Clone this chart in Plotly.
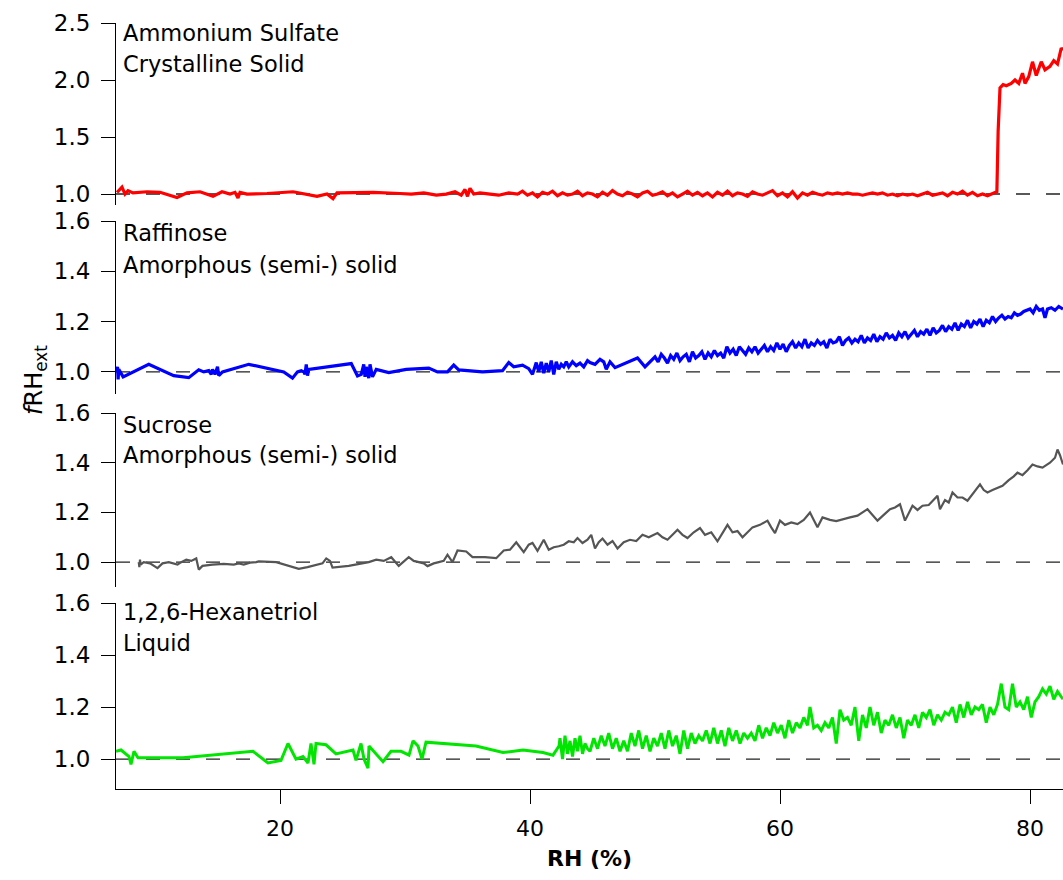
import plotly.graph_objects as go

# ---------------- data ----------------
X_RANGE = [6.88, 82.64]
X_TICKS = [20, 40, 60, 80]
REF_LEVEL = 1.0

as_rh = [6.96, 7.36, 7.6, 7.84, 8.24, 9.36, 10.4, 11.76, 12.56, 13.6, 14.64, 15.36, 16.0, 16.4,
         16.64, 16.8, 17.36, 18.96, 21.04, 22.96, 23.76, 24.24, 24.56, 27.44, 29.6, 30.5, 31.5,
         32.5, 33.3, 34.0, 34.5, 34.8, 35.0, 35.2, 35.5, 36.0, 36.8, 37.5, 38.3,
         39.0, 39.4, 39.8, 40.2, 40.6, 41.0, 41.4, 41.8, 42.2, 42.6, 43.0, 43.4, 43.8, 44.2, 44.6,
         45.0, 45.4, 45.8, 46.2, 46.6, 47.0, 47.4, 47.8, 48.2, 48.6, 49.0, 49.4, 49.8, 50.2, 50.6,
         51.0, 51.4, 51.8, 52.2, 52.6, 53.0, 53.4, 53.8, 54.2, 54.6, 55.0, 55.4, 55.8, 56.2, 56.6,
         57.0, 57.4, 57.8, 58.2, 58.6, 59.0, 59.4, 59.8, 60.2, 60.6, 61.0, 61.4, 61.8, 62.2, 62.6,
         63.0, 63.4, 63.8, 64.2, 64.6, 65.0, 65.4, 65.8, 66.2, 66.6, 67.0, 67.4, 67.8, 68.2, 68.6,
         69.0, 69.4, 69.8, 70.2, 70.6, 71.0, 71.4, 71.8, 72.2, 72.6, 73.0, 73.4, 73.8, 74.2, 74.6,
         75.0, 75.4, 75.8, 76.2, 76.6, 77.0, 77.2, 77.35, 77.45, 77.6, 77.85, 78.1, 78.5, 78.8,
         79.1, 79.4, 79.6, 79.9, 80.2, 80.5, 80.9, 81.2, 81.6, 81.9, 82.2, 82.5, 82.64]
as_f = [1.014, 1.06, 1.00, 1.03, 1.01, 1.02, 1.015, 0.97, 1.01, 1.02, 0.98, 1.02, 1.00, 1.015,
        0.965, 1.015, 1.0, 1.005, 1.02, 0.98, 1.00, 0.96, 1.01, 1.015, 1.005, 1.0, 1.01,
        0.99, 1.0, 1.02, 0.99, 1.04, 0.98, 1.05, 1.0, 1.01, 1.0, 0.99, 1.01,
        1.00, 1.025, 0.99, 1.01, 0.975, 1.015, 1.00, 1.025, 0.985, 1.01, 0.99, 1.00, 1.025, 0.985, 1.01,
        1.00, 0.975, 1.015, 0.99, 1.03, 1.00, 0.985, 1.015, 1.00, 0.975, 1.01, 1.025, 0.99, 1.00, 1.02,
        0.985, 1.01, 0.975, 1.00, 1.025, 0.99, 1.015, 0.985, 1.01, 0.975, 1.015, 0.99, 1.025, 0.985, 1.01,
        1.00, 0.98, 1.02, 1.00, 0.99, 1.01, 1.03, 0.985, 1.01, 0.975, 1.02, 0.965, 1.01, 0.99, 1.015,
        1.00, 0.99, 1.01, 1.00, 1.01, 1.00, 1.01, 1.00, 1.00, 0.99, 1.00, 1.01, 1.00, 1.01, 0.99,
        1.00, 0.985, 1.00, 0.99, 1.00, 0.985, 1.00, 1.015, 0.99, 1.00, 1.01, 0.985, 1.015, 1.00, 1.025,
        0.99, 1.015, 0.985, 1.00, 0.985, 1.00, 1.01, 1.02, 1.55, 1.93, 1.96, 1.95, 1.97, 2.0,
        1.97, 2.06, 1.97, 2.03, 2.16, 2.04, 2.16, 2.09, 2.12, 2.17, 2.14, 2.28, 2.26]

raf_rh = [6.9, 7.0, 7.05, 7.1, 7.45, 9.5, 11.5, 12.7, 13.5, 13.9, 14.3, 14.5, 14.6, 14.8, 15.0,
          15.1, 15.4, 17.5, 20.3, 21.0, 21.4, 21.7, 21.9, 22.0, 22.1, 22.2, 22.3, 23.9, 25.7,
          26.2, 26.5, 26.7, 26.8, 26.9, 27.1, 27.2, 27.4, 27.7, 28.7, 30.1, 31.9, 32.6, 33.1,
          33.4, 33.9, 34.3, 36.2, 37.8, 38.3, 38.7, 39.4, 39.9, 40.2, 40.5, 40.7, 40.9, 41.1,
          41.3, 41.5, 41.7, 41.9, 42.1, 42.3, 42.5, 42.7, 42.9, 43.1, 43.4, 43.7, 44.0, 44.3,
          44.6, 44.8, 45.2, 45.6, 45.9, 46.1, 46.4, 46.8, 48.6, 49.2, 49.6,
          50.0, 50.25, 50.5, 50.75, 51.0, 51.25, 51.5, 51.75, 52.0, 52.25, 52.5, 52.75, 53.0,
          53.25, 53.5, 53.75, 54.0, 54.25, 54.5, 54.75, 55.0, 55.25, 55.5, 55.75, 56.0, 56.25,
          56.5, 56.75, 57.0, 57.25, 57.5, 57.75, 58.0, 58.25, 58.5, 58.75, 59.0, 59.25, 59.5,
          59.75, 60.0, 60.25, 60.5, 60.75, 61.0, 61.25, 61.5, 61.75, 62.0, 62.25, 62.5, 62.75,
          63.0, 63.25, 63.5, 63.75, 64.0, 64.25, 64.5, 64.75, 65.0, 65.25, 65.5, 65.75, 66.0,
          66.25, 66.5, 66.75, 67.0, 67.25, 67.5, 67.75, 68.0, 68.25, 68.5, 68.75, 69.0, 69.25,
          69.5, 69.75, 70.0, 70.25, 70.5, 70.75, 71.0, 71.25, 71.5, 71.75, 72.0, 72.25, 72.5,
          72.75, 73.0, 73.25, 73.5, 73.75, 74.0, 74.25, 74.5, 74.75, 75.0, 75.25, 75.5, 75.75,
          76.0, 76.25, 76.5, 76.75, 77.0, 77.25, 77.5, 77.75, 78.0, 78.25, 78.5, 78.75, 79.0,
          79.25, 79.5, 79.75, 80.0, 80.25, 80.5, 80.75, 81.0, 81.2, 81.4, 81.7, 82.0, 82.3, 82.64]
raf_f = [1.00, 1.02, 0.97, 1.01, 0.98, 1.03, 0.985, 0.977, 1.008, 1.0, 1.005, 0.99, 1.01, 0.99, 1.02,
         0.985, 1.0, 1.03, 1.0, 0.975, 1.0, 1.005, 1.0, 0.99, 1.03, 0.985, 1.01, 1.02, 1.033,
         0.984, 0.99, 1.03, 0.98, 1.02, 0.975, 1.03, 0.98, 1.01, 0.997, 1.01, 1.015, 1.0, 1.002,
         1.0, 1.027, 1.008, 1.0, 1.005, 1.037, 1.02, 1.027, 1.013, 0.99, 1.037, 1.0, 1.04, 0.995,
         1.035, 1.0, 1.045, 0.99, 1.04, 1.01, 1.03, 1.02, 1.04, 1.02, 1.04, 1.025, 1.035, 1.02,
         1.045, 1.037, 1.03, 1.05, 1.04, 1.01, 1.04, 1.017, 1.055, 1.02, 1.04,
         1.06, 1.04, 1.07, 1.055, 1.035, 1.065, 1.05, 1.075, 1.045, 1.06, 1.07, 1.04, 1.08,
         1.055, 1.065, 1.08, 1.05, 1.075, 1.06, 1.085, 1.065, 1.075, 1.055, 1.10, 1.075, 1.09,
         1.065, 1.10, 1.085, 1.07, 1.095, 1.08, 1.10, 1.075, 1.09, 1.105, 1.08, 1.10, 1.085,
         1.115, 1.09, 1.11, 1.08, 1.105, 1.12, 1.095, 1.115, 1.10, 1.13, 1.095, 1.115, 1.105,
         1.125, 1.11, 1.12, 1.095, 1.13, 1.115, 1.12, 1.14, 1.105, 1.125, 1.135, 1.115, 1.13,
         1.12, 1.145, 1.115, 1.135, 1.125, 1.15, 1.12, 1.14, 1.13, 1.155, 1.135, 1.145, 1.125,
         1.155, 1.14, 1.16, 1.135, 1.15, 1.165, 1.14, 1.16, 1.15, 1.17, 1.145, 1.175, 1.155,
         1.165, 1.185, 1.16, 1.18, 1.17, 1.195, 1.165, 1.19, 1.18, 1.205, 1.175, 1.20, 1.19,
         1.21, 1.18, 1.205, 1.195, 1.22, 1.20, 1.215, 1.225, 1.21, 1.22, 1.215, 1.235, 1.225,
         1.23, 1.24, 1.245, 1.25, 1.235, 1.26, 1.245, 1.25, 1.215, 1.25, 1.255, 1.245, 1.26, 1.25]

suc_rh = [8.7, 8.75, 8.8, 8.85, 9.1, 9.6, 10.2, 10.6, 11.1, 11.5, 11.8, 12.1, 12.5, 12.9, 13.3,
          13.5, 13.8, 14.6, 15.5, 16.3, 16.7, 17.1, 17.6, 18.1, 18.3, 19.7, 20.6, 21.5, 22.2,
          22.9, 23.4, 23.7, 24.0, 24.2, 25.5, 27.1, 27.7, 28.3, 28.9, 29.5, 30.3, 30.7, 31.1,
          31.5, 31.8, 32.3, 32.7, 33.1, 33.4, 33.8, 34.2, 34.9, 35.4, 36.4, 37.3, 37.9, 38.4,
          38.9, 39.2, 39.5, 39.9, 40.2, 40.6, 41.1, 41.5, 41.9, 42.3, 42.7, 43.1, 43.5, 43.8,
          44.2, 44.6, 44.9, 45.2, 45.5, 45.8, 46.2, 46.6, 47.0, 47.5, 48.0, 48.5, 49.0, 49.5,
          50.2, 50.6, 51.0, 51.4, 51.8, 52.2, 52.6, 53.1, 53.6, 54.0, 54.5, 55.0, 55.4, 55.8,
          56.2, 56.6, 57.0, 57.4, 57.8, 58.4, 59.0, 59.3, 59.6, 60.0, 60.4, 60.9, 61.4, 61.9,
          62.4, 62.7, 63.0, 63.4, 64.0, 64.5, 65.0, 65.6, 66.2, 66.6, 67.0, 67.4, 67.8, 68.3,
          68.8, 69.2, 69.6, 70.0, 70.3, 70.6, 71.0, 71.4, 71.9, 72.3, 72.6, 72.8, 73.2, 73.5,
          73.8, 74.2, 74.6, 75.0, 75.5, 76.0, 76.3, 76.6, 77.0, 77.4, 77.8, 78.3, 78.7, 79.0,
          79.4, 79.8, 80.2, 80.6, 81.0, 81.3, 81.6, 82.0, 82.2, 82.4, 82.64]
suc_f = [1.00, 0.98, 1.01, 0.99, 1.00, 0.995, 0.976, 0.995, 1.0, 0.995, 0.99, 1.0, 1.01, 1.005, 1.015,
         0.97, 0.985, 0.99, 0.993, 0.99, 0.995, 0.99, 0.998, 1.0, 1.003, 1.0, 0.985, 0.973, 0.98,
         0.99, 0.995, 1.015, 1.005, 0.978, 0.985, 1.0, 1.01, 1.005, 1.02, 0.985, 1.02, 1.005, 1.0,
         0.995, 0.984, 0.995, 1.0, 1.005, 1.03, 1.0, 1.047, 1.043, 1.02, 1.02, 1.016, 1.047, 1.05,
         1.08, 1.06, 1.04, 1.07, 1.077, 1.045, 1.09, 1.05, 1.06, 1.064, 1.07, 1.084, 1.08, 1.097,
         1.077, 1.09, 1.11, 1.055, 1.08, 1.095, 1.07, 1.085, 1.055, 1.08, 1.09, 1.085, 1.11, 1.10,
         1.117, 1.10, 1.09, 1.11, 1.13, 1.11, 1.097, 1.12, 1.137, 1.11, 1.12, 1.084, 1.12, 1.15,
         1.12, 1.125, 1.10, 1.12, 1.14, 1.15, 1.167, 1.14, 1.117, 1.167, 1.15, 1.16, 1.153, 1.17,
         1.20, 1.17, 1.14, 1.18, 1.17, 1.165, 1.173, 1.18, 1.187, 1.20, 1.213, 1.19, 1.167, 1.19,
         1.213, 1.22, 1.233, 1.167, 1.20, 1.227, 1.21, 1.227, 1.23, 1.25, 1.267, 1.213, 1.25, 1.24,
         1.28, 1.26, 1.26, 1.247, 1.28, 1.313, 1.29, 1.28, 1.29, 1.30, 1.307, 1.33, 1.345, 1.36,
         1.35, 1.37, 1.393, 1.385, 1.38, 1.39, 1.40, 1.42, 1.453, 1.43, 1.393]

hex_rh = [6.88, 7.28, 7.92, 8.08, 8.32, 8.64, 12.24, 17.84, 19.04, 20.08, 20.64, 21.28, 21.84,
          22.24, 22.48, 22.72, 22.88, 23.68, 24.48, 25.84, 26.08, 26.48, 26.72, 27.04, 27.12,
          28.24, 28.88, 29.68, 30.32, 30.64, 31.04, 31.36, 31.68, 35.68, 37.84, 39.44, 41.04,
          41.84, 42.32,
          42.4, 42.6, 42.8, 43.0, 43.2, 43.4, 43.6, 43.8, 44.0, 44.2, 44.4, 44.6, 44.8, 45.1,
          45.4, 45.7, 46.0, 46.3, 46.6, 46.9, 47.2, 47.5, 47.8, 48.1, 48.4, 48.7, 49.0, 49.3,
          49.6, 49.9, 50.2, 50.5, 50.8, 51.1, 51.4, 51.7, 52.0, 52.3, 52.6, 52.9, 53.2, 53.5,
          53.8, 54.1, 54.4, 54.7, 55.0, 55.3, 55.6, 55.9, 56.2, 56.5, 56.8, 57.1, 57.4, 57.7,
          58.0, 58.3, 58.6, 58.9, 59.2, 59.5, 59.8, 60.1, 60.4, 60.7, 61.0, 61.3, 61.6, 61.9,
          62.2, 62.4, 62.7, 63.0, 63.3, 63.6, 63.9, 64.2, 64.5, 64.8, 65.1, 65.4, 65.7, 66.0,
          66.3, 66.6, 66.9, 67.2, 67.5, 67.8, 68.1, 68.4, 68.7, 69.0, 69.3, 69.6, 69.9, 70.2,
          70.5, 70.8, 71.1, 71.4, 71.7, 72.0, 72.3, 72.6, 72.9, 73.2, 73.5, 73.8, 74.1, 74.4,
          74.7, 75.0, 75.3, 75.6, 75.9, 76.2, 76.5, 76.8, 77.1, 77.4, 77.7, 78.0, 78.3, 78.6,
          78.9, 79.2, 79.5, 79.8, 80.1, 80.4, 80.7, 81.0, 81.3, 81.6, 81.9, 82.2, 82.64]
hex_f = [1.03, 1.035, 1.01, 0.98, 1.03, 1.005, 1.005, 1.03, 0.985, 0.995, 1.06, 1.0, 1.01,
         0.985, 1.06, 0.98, 1.06, 1.055, 1.02, 1.035, 0.995, 1.06, 1.0, 0.965, 1.05,
         0.99, 1.03, 1.03, 1.015, 1.07, 1.05, 1.0, 1.065, 1.05, 1.025, 1.035, 1.025,
         1.015, 1.05,
         1.08, 1.00, 1.09, 1.02, 1.07, 1.01, 1.08, 1.03, 1.09, 1.02, 1.06, 1.04, 1.03, 1.08,
         1.04, 1.09, 1.05, 1.10, 1.04, 1.08, 1.03, 1.07, 1.03, 1.10, 1.05, 1.11, 1.04, 1.09,
         1.03, 1.08, 1.05, 1.10, 1.04, 1.11, 1.05, 1.09, 1.02, 1.11, 1.04, 1.10, 1.06, 1.09,
         1.07, 1.11, 1.06, 1.12, 1.06, 1.11, 1.05, 1.12, 1.07, 1.11, 1.06, 1.10, 1.08, 1.10,
         1.07, 1.13, 1.08, 1.12, 1.09, 1.14, 1.10, 1.13, 1.08, 1.15, 1.10, 1.14, 1.12, 1.16,
         1.13, 1.20, 1.12, 1.13, 1.11, 1.14, 1.12, 1.16, 1.06, 1.19, 1.15, 1.16, 1.13, 1.20,
         1.07, 1.17, 1.12, 1.20, 1.13, 1.18, 1.10, 1.15, 1.13, 1.17, 1.12, 1.16, 1.08, 1.15,
         1.13, 1.17, 1.12, 1.18, 1.16, 1.19, 1.13, 1.17, 1.15, 1.18, 1.17, 1.20, 1.14, 1.21,
         1.16, 1.22, 1.17, 1.20, 1.19, 1.21, 1.14, 1.20, 1.17, 1.21, 1.29, 1.20, 1.19, 1.29,
         1.20, 1.22, 1.19, 1.24, 1.16, 1.22, 1.24, 1.27, 1.25, 1.28, 1.23, 1.26, 1.23]

series = [
    dict(rh=as_rh, f=as_f, color="#FF0000", width=3.2,
         label=["Ammonium Sulfate", "Crystalline Solid"],
         yrange=[0.904, 2.5], ticks=[1.0, 1.5, 2.0, 2.5]),
    dict(rh=raf_rh, f=raf_f, color="#0000FF", width=3.2,
         label=["Raffinose", "Amorphous (semi-) solid"],
         yrange=[0.912, 1.6], ticks=[1.0, 1.2, 1.4, 1.6]),
    dict(rh=suc_rh, f=suc_f, color="#555555", width=2.2,
         label=["Sucrose", "Amorphous (semi-) solid"],
         yrange=[0.90, 1.6], ticks=[1.0, 1.2, 1.4, 1.6]),
    dict(rh=hex_rh, f=hex_f, color="#00E600", width=3.0,
         label=["1,2,6-Hexanetriol", "Liquid"],
         yrange=[0.885, 1.6], ticks=[1.0, 1.2, 1.4, 1.6]),
]

# ---------------- layout geometry ----------------
W, H = 1063, 880
L = 116
panel_px = [(23, 205), (221, 394), (413, 587), (603, 789)]
label_px = [(33, 64.5), (233, 264.7), (424.7, 455), (612, 643)]

FONT = "DejaVu Sans"

fig = go.Figure()
layout = dict(
    width=W, height=H,
    margin=dict(l=L, r=0, t=0, b=0),
    paper_bgcolor="white", plot_bgcolor="white",
    showlegend=False,
    font=dict(family=FONT, size=22, color="black"),
    template="none",
)

layout["xaxis"] = dict(
    range=X_RANGE, domain=[0, 1], anchor="y4",
    tickvals=X_TICKS, ticktext=[str(v) for v in X_TICKS],
    ticks="outside", ticklen=14, tickwidth=1, tickcolor="black",
    showline=True, linecolor="black", linewidth=1,
    showgrid=False, zeroline=False,
    tickfont=dict(family=FONT, size=22),
    ticklabelstandoff=6,
    automargin=False,
)

annotations = []
shapes = []
for i, s in enumerate(series):
    k = i + 1
    ykey = "yaxis" if k == 1 else f"yaxis{k}"
    yref = "y" if k == 1 else f"y{k}"
    top, bot = panel_px[i]
    layout[ykey] = dict(
        domain=[1 - bot / H, 1 - top / H], anchor="x",
        range=s["yrange"], tickvals=s["ticks"],
        ticktext=[f"{v:.1f}" for v in s["ticks"]],
        ticks="outside", ticklen=14, tickwidth=1, tickcolor="black",
        showline=True, linecolor="black", linewidth=1,
        showgrid=False, zeroline=False,
        tickfont=dict(family=FONT, size=23),
        ticklabelstandoff=6,
        automargin=False,
    )
    fig.add_trace(go.Scatter(
        x=s["rh"], y=s["f"], mode="lines", xaxis="x", yaxis=yref,
        line=dict(color=s["color"], width=s["width"]), hoverinfo="skip",
    ))
    shapes.append(dict(
        type="line", xref="x domain", yref=yref, x0=0, x1=1, y0=REF_LEVEL, y1=REF_LEVEL,
        line=dict(color="#222222", width=1.4, dash="14px,16px"), layer="below",
    ))
    for line_text, cy in zip(s["label"], label_px[i]):
        annotations.append(dict(
            text=line_text, xref="paper", yref="paper",
            x=(121 - L) / (W - L), y=1 - cy / H,
            xanchor="left", yanchor="middle", showarrow=False,
            font=dict(family=FONT, size=22.5, color="black"),
        ))

annotations.append(dict(
    text="<b>RH (%)</b>", xref="paper", yref="paper",
    x=0.5, y=1 - 858 / H, xanchor="center", yanchor="middle",
    showarrow=False, font=dict(family=FONT, size=22, color="black"),
))
annotations.append(dict(
    text="<i>f</i>RH<sub>ext</sub>", xref="paper", yref="paper",
    x=(35 - L) / (W - L), y=1 - 380 / H, xanchor="center", yanchor="middle",
    textangle=-90, showarrow=False, font=dict(family=FONT, size=24, color="black"),
))

layout["annotations"] = annotations
layout["shapes"] = shapes
fig.update_layout(**layout)

fig.write_html("out.html")
